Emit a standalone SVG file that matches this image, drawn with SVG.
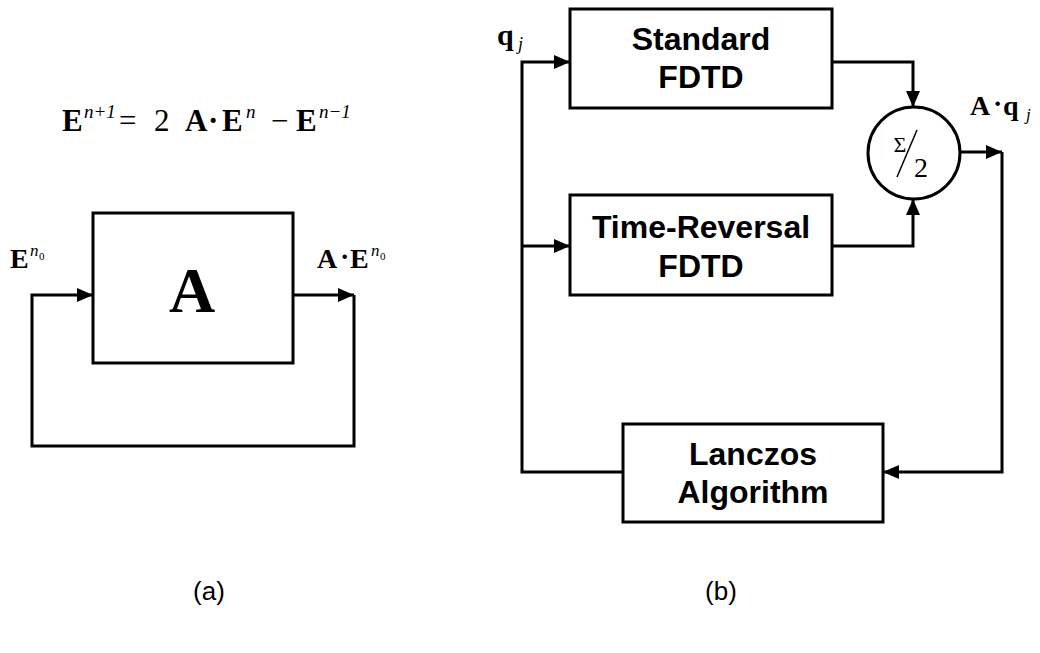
<svg xmlns="http://www.w3.org/2000/svg" width="1040" height="653" viewBox="0 0 1040 653">
<defs>
<marker id="ah" markerWidth="16" markerHeight="14" refX="16" refY="7" orient="auto" markerUnits="userSpaceOnUse">
<path d="M0,0 L16,7 L0,14 Z" fill="#000"/>
</marker>
<style>
.ln{fill:none;stroke:#000;stroke-width:3;stroke-linejoin:miter}
.box{fill:#fff;stroke:#000;stroke-width:3}
.lbl{font-family:"Liberation Sans",Arial,sans-serif;font-weight:bold;font-size:32px;text-anchor:middle;fill:#000}
.m{font-family:"Liberation Serif","Times New Roman",serif;font-weight:bold;fill:#000}
.it{font-family:"Liberation Serif","Times New Roman",serif;font-style:italic;font-weight:normal;fill:#000}
.rm{font-family:"Liberation Serif","Times New Roman",serif;font-weight:normal;fill:#000}
.cap{font-family:"Liberation Sans",Arial,sans-serif;font-size:26px;fill:#000;text-anchor:middle}
</style>
</defs>
<rect width="1040" height="653" fill="#fff"/>

<!-- (a) -->
<g id="equation">
<text class="m" font-size="31" y="131"><tspan x="62">E</tspan></text>
<text class="it" font-size="19" x="84" y="118">n<tspan class="rm">+1</tspan></text>
<text class="rm" font-size="31" x="119" y="131">=</text>
<text class="rm" font-size="31" x="154" y="131">2</text>
<text class="m" font-size="31" x="185" y="131">A</text>
<text class="m" font-size="31" x="208" y="131">·</text>
<text class="m" font-size="31" x="222" y="131">E</text>
<text class="it" font-size="19" x="246" y="118">n</text>
<text class="rm" font-size="31" x="271" y="131">−</text>
<text class="m" font-size="31" x="296" y="131">E</text>
<text class="it" font-size="19" x="319" y="118">n<tspan class="rm">−1</tspan></text>
</g>

<g id="nodeA">
<rect class="box" x="93" y="213" width="200" height="150"/>
<text class="m" font-size="64" x="192" y="312" text-anchor="middle">A</text>
</g>

<g id="labelsA">
<text class="m" font-size="28" x="10" y="268">E</text>
<text class="it" font-size="17" x="30" y="256">n</text>
<text class="rm" font-size="11" x="39" y="260">0</text>
<text class="m" font-size="28" x="317" y="268">A</text>
<text class="m" font-size="28" x="340" y="266">·</text>
<text class="m" font-size="28" x="350" y="268">E</text>
<text class="it" font-size="17" x="371" y="256">n</text>
<text class="rm" font-size="11" x="380" y="260">0</text>
</g>

<g id="connectorsA">
<path class="ln" d="M293,295 H354" marker-end="url(#ah)"/>
<path class="ln" d="M354,295 V446 H32 V295 H93" marker-end="url(#ah)"/>
</g>

<!-- (b) -->
<g id="standard">
<rect class="box" x="570" y="9" width="262" height="99"/>
<text class="lbl" x="701" y="50">Standard</text>
<text class="lbl" x="701" y="88">FDTD</text>
</g>
<g id="timereversal">
<rect class="box" x="570" y="195" width="262" height="100"/>
<text class="lbl" x="701" y="238">Time-Reversal</text>
<text class="lbl" x="701" y="277">FDTD</text>
</g>
<g id="lanczos">
<rect class="box" x="623" y="424" width="260" height="98"/>
<text class="lbl" x="753" y="465">Lanczos</text>
<text class="lbl" x="753" y="503">Algorithm</text>
</g>
<g id="sum">
<circle cx="914" cy="153" r="46" fill="#fff" stroke="#000" stroke-width="3"/>
<text class="rm" font-size="22" x="900" y="152" text-anchor="middle">Σ</text>
<line x1="897" y1="177" x2="917" y2="130" stroke="#000" stroke-width="1.5"/>
<text class="rm" font-size="28" x="921" y="177" text-anchor="middle">2</text>
</g>
<g id="labelsB">
<text class="m" font-size="30" x="497" y="45">q</text>
<text class="it" font-size="18" x="518" y="50">j</text>
<text class="m" font-size="28" x="970" y="115">A</text>
<text class="m" font-size="28" x="993" y="113">·</text>
<text class="m" font-size="28" x="1003" y="115">q</text>
<text class="it" font-size="17" x="1026" y="120">j</text>
</g>
<g id="connectorsB">
<path class="ln" d="M623,472 H522 V62 H570" marker-end="url(#ah)"/>
<path class="ln" d="M522,246 H570" marker-end="url(#ah)"/>
<path class="ln" d="M832,62 H913 V107" marker-end="url(#ah)"/>
<path class="ln" d="M832,246 H913 V199" marker-end="url(#ah)"/>
<path class="ln" d="M960,152 H1002" marker-end="url(#ah)"/>
<path class="ln" d="M1002,152 V472 H883" marker-end="url(#ah)"/>
</g>

<g id="captions">
<text class="cap" x="209" y="600">(a)</text>
<text class="cap" x="721" y="600">(b)</text>
</g>
</svg>
